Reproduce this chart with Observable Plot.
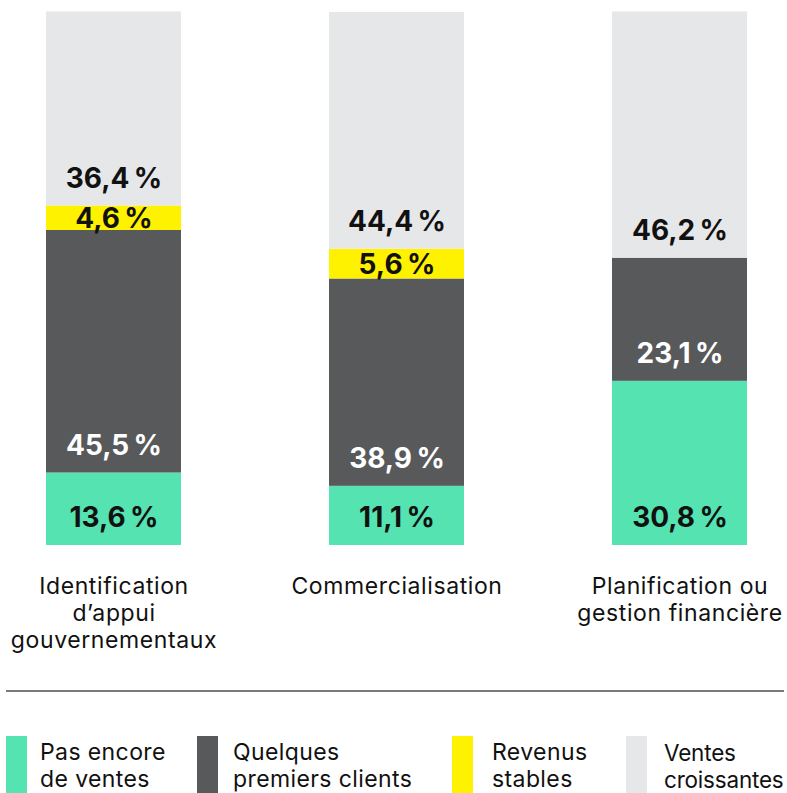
<!DOCTYPE html>
<html>
<head>
<meta charset="utf-8">
<script src="https://cdn.jsdelivr.net/npm/d3@7"></script>
<script src="https://cdn.jsdelivr.net/npm/@observablehq/plot@0.6"></script>
<style>
  html, body { margin: 0; padding: 0; background: #fff; }
  body { width: 787px; height: 793px; position: relative; overflow: hidden; font-family: Inter, "Noto Sans", sans-serif; }
  #chart { position: absolute; left: 0; top: 0; }
  #rule { position: absolute; left: 6px; top: 690px; width: 778px; height: 2px; background: #7a7a7a; }
  .sw { position: absolute; width: 21px; height: 57px; }
  .lt { position: absolute; font-size: 23px; line-height: 27px; color: #111; white-space: nowrap; letter-spacing: 0.4px; }
</style>
</head>
<body>
<div id="chart"></div>
<div id="rule"></div>
<div id="legend"></div>
<script>
const categories = ["Identification\nd’appui\ngouvernementaux", "Commercialisation", "Planification ou\ngestion financière"];
const series = ["Pas encore de ventes", "Quelques premiers clients", "Revenus stables", "Ventes croissantes"];
const legendLabels = ["Pas encore\nde ventes", "Quelques\npremiers clients", "Revenus\nstables", "Ventes\ncroissantes"];
const colors = ["#55e3b1", "#58595b", "#fff200", "#e6e7e8"];
const textColors = ["#111", "#fff", "#111", "#111"];
const pasEncore = [13.6, 11.1, 30.8];
const quelques = [45.5, 38.9, 23.1];
const revenus = [4.6, 5.6, 0];
const croissantes = [36.4, 44.4, 46.2];
const valueLabels = [
  ["13,6 %", "45,5 %", "4,6 %", "36,4 %"],
  ["11,1 %", "38,9 %", "5,6 %", "44,4 %"],
  ["30,8 %", "23,1 %", "", "46,2 %"]
];

const seriesValues = [pasEncore, quelques, revenus, croissantes];
const rows = [];
categories.forEach((c, i) => {
  let start = 0;
  series.forEach((s, j) => {
    const v = seriesValues[j][i];
    if (v > 0) {
      rows.push({cat: c, series: s, value: v, start, mid: start + v / 2,
                 label: valueLabels[i][j].replace(" ", "\u202F"), tc: textColors[j], small: v < 8});
    }
    start += v;
  });
});

const chart = Plot.plot({
  width: 787,
  height: 670,
  marginTop: 12,
  marginBottom: 125,
  marginLeft: 0,
  marginRight: 0,
  style: {fontFamily: "Inter, 'Noto Sans', sans-serif", background: "transparent"},
  x: {domain: categories, range: [46, 747], paddingInner: 0.523, paddingOuter: 0, round: false, axis: null},
  y: {domain: [0, 100], axis: null},
  color: {domain: series, range: colors},
  marks: [
    Plot.barY(rows, {x: "cat", y1: "start", y2: d => d.start + d.value, fill: "series", inset: 0}),
    Plot.text(rows.filter(d => !d.small), {x: "cat", y: "start", dy: -27, text: "label", fill: "tc",
      fontSize: 28, fontWeight: 700, lineAnchor: "middle"}),
    Plot.text(rows.filter(d => d.small), {x: "cat", y: "mid", dy: 1, text: "label", fill: "tc",
      fontSize: 28, fontWeight: 700, lineAnchor: "middle"}),
    Plot.text(categories, {x: d => d, frameAnchor: "bottom", lineAnchor: "top", dy: 29, text: d => d,
      fontSize: 23, lineHeight: 1.174, fill: "#111", className: "cat"})
  ]
});
document.getElementById("chart").appendChild(chart);
chart.querySelectorAll("g.cat text, text.cat").forEach(t => t.style.letterSpacing = "0.6px");

const legendX = [[6, 40], [197, 233], [452, 492], [626, 664]];
const legend = document.getElementById("legend");
series.forEach((s, i) => {
  const sw = document.createElement("div");
  sw.className = "sw";
  sw.style.left = legendX[i][0] + "px";
  sw.style.top = "736px";
  sw.style.background = colors[i];
  legend.appendChild(sw);
  const t = document.createElement("div");
  t.className = "lt";
  t.style.left = legendX[i][1] + "px";
  t.style.top = "739px";
  if (i === 3) { t.style.letterSpacing = "-0.2px"; t.style.fontSize = "22.5px"; }
  t.innerHTML = legendLabels[i].replace("\n", "<br>");
  legend.appendChild(t);
});
</script>
</body>
</html>
